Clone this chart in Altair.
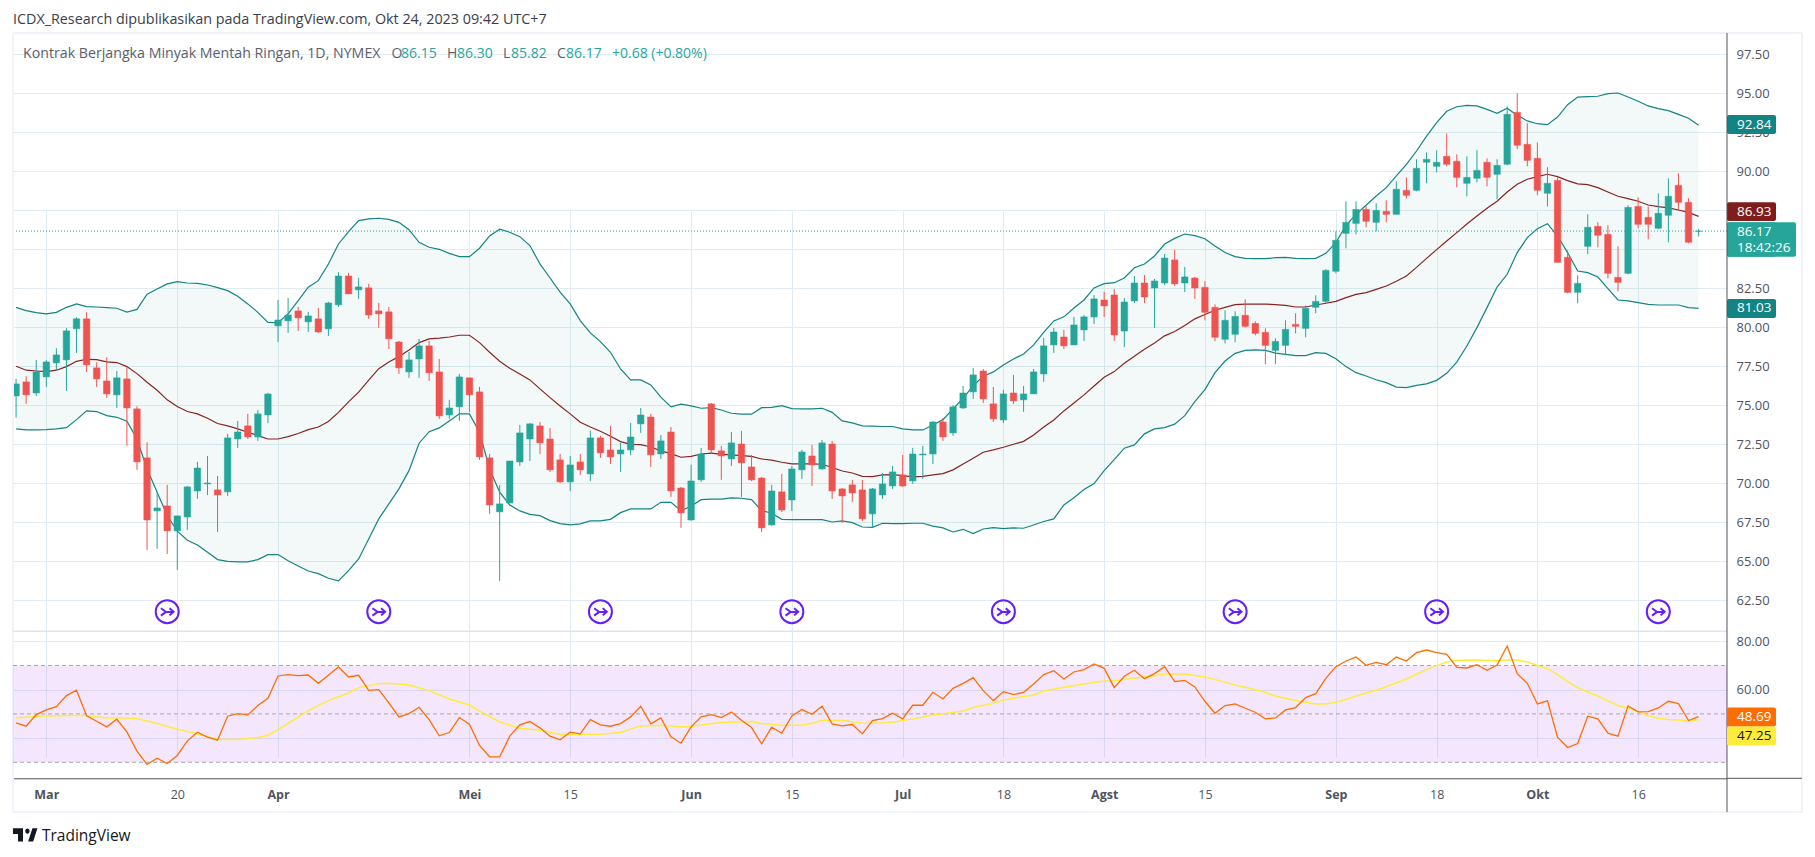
import altair as alt
import pandas as pd

bars = list(range(-3, 165))

opens = [75.60,76.50,75.79,76.82,77.72,77.91,79.90,80.54,77.40,76.56,
75.67,76.69,74.77,71.63,68.23,68.55,66.95,67.84,69.51,69.96,
69.58,69.45,72.84,73.68,72.97,74.38,80.09,80.41,81.05,80.35,
80.54,79.90,81.44,83.29,82.40,82.53,81.05,80.99,79.06,77.14,
77.97,78.81,77.14,74.38,74.90,76.76,75.86,71.63,68.17,68.74,
71.37,72.84,73.68,72.84,71.50,70.09,71.37,70.60,72.91,72.14,
71.88,72.14,73.81,74.25,71.88,73.29,69.70,67.65,70.22,75.09,
72.08,71.56,72.52,71.05,70.34,67.33,69.45,68.93,70.86,71.75,
70.92,72.52,69.64,69.90,69.58,68.04,69.25,69.83,70.54,70.15,
71.82,71.88,73.93,73.23,74.83,75.86,77.20,75.09,74.06,75.79,
75.35,75.73,77.01,78.87,79.38,78.87,79.83,80.66,81.75,82.07,
79.76,81.69,82.84,82.52,82.84,84.32,82.84,83.16,82.56,81.28,
79.23,79.55,80.77,80.25,79.68,78.52,78.84,80.19,79.93,81.28,
81.66,83.59,86.02,86.66,87.56,86.73,87.43,87.24,88.78,88.78,
90.58,90.32,90.96,90.64,89.23,89.55,90.58,89.81,90.45,93.78,
91.73,90.83,88.59,89.42,84.49,82.24,85.19,86.47,85.96,83.20,
83.46,87.75,87.05,86.35,87.18,89.10,88.01,86.15]

closes = [76.37,75.67,77.14,77.78,78.23,79.77,80.54,77.59,76.69,75.73,
76.76,74.83,71.37,67.65,68.42,66.95,67.91,69.77,70.98,70.02,
69.25,72.91,73.29,72.97,74.45,75.73,80.47,80.79,80.60,80.73,
79.70,81.56,83.29,82.14,82.59,80.79,80.86,79.26,77.40,77.91,
78.81,77.08,74.32,74.83,76.82,75.67,71.69,68.61,68.68,71.43,
73.23,73.81,72.59,70.86,70.09,71.18,70.86,72.91,71.95,71.69,
72.14,72.97,74.38,71.82,72.72,69.51,68.10,70.15,71.88,72.14,
71.75,72.59,71.31,70.22,67.14,69.51,68.29,70.92,72.01,71.18,
72.59,69.51,69.19,69.38,67.72,69.64,69.96,70.73,69.83,71.88,
71.88,73.93,72.97,74.90,75.79,76.95,75.41,74.13,75.73,75.28,
75.73,77.14,78.81,79.70,78.81,80.15,80.67,81.82,81.37,79.51,
81.62,82.84,81.94,82.97,84.44,82.78,83.23,82.52,80.96,79.36,
80.45,80.70,80.06,79.61,78.84,79.10,79.87,80.06,81.22,81.66,
83.65,85.58,86.73,87.56,86.79,87.50,87.24,88.85,88.46,90.19,
90.77,90.58,90.45,89.61,89.61,90.06,89.61,90.38,93.65,91.67,
90.70,88.78,89.23,84.16,82.24,82.82,86.41,85.90,83.46,82.88,
87.69,86.60,86.60,87.31,88.40,88.01,85.45,86.17]

highs = [76.69,76.86,77.91,77.89,78.66,79.94,80.64,80.97,77.76,78.08,
77.20,77.44,74.94,72.63,69.43,69.90,67.93,69.83,71.37,71.75,
70.47,73.17,74.00,74.45,74.70,75.79,81.76,81.88,81.31,80.99,
81.24,81.63,83.53,83.49,83.17,82.78,81.56,81.31,79.13,78.42,
79.26,79.13,77.97,75.35,77.01,76.76,76.18,71.88,69.90,71.43,
73.74,73.87,73.93,73.55,71.88,71.75,71.88,73.36,73.04,73.68,
72.59,73.87,74.83,74.45,73.10,73.61,69.77,71.18,72.27,75.15,
72.40,73.29,73.36,71.82,70.41,69.90,70.60,71.11,72.14,72.46,
72.78,72.72,69.70,70.22,70.22,69.70,70.66,71.11,71.82,72.27,
72.40,74.00,74.19,75.02,76.24,77.40,77.33,76.18,75.99,76.95,
76.24,77.33,79.32,79.96,79.83,80.67,80.79,82.07,82.27,82.46,
81.88,83.29,83.35,83.10,84.70,84.96,83.87,83.23,82.95,81.47,
81.09,81.03,81.79,80.38,79.93,79.29,80.45,80.90,81.41,82.05,
83.72,86.15,88.08,88.08,87.75,87.95,88.14,89.36,89.61,90.77,
91.22,91.35,92.43,91.09,90.96,91.35,90.83,90.77,94.17,95.00,
93.08,91.86,90.26,89.61,84.93,83.33,87.24,86.73,86.54,85.19,
87.82,88.33,87.75,88.59,89.55,89.87,88.27,86.30]

lows = [74.21,75.09,75.60,76.18,77.23,75.92,78.36,77.14,76.18,75.47,
74.83,72.40,70.86,65.73,65.79,65.47,64.45,67.01,69.00,69.25,
66.88,69.19,72.27,72.84,72.72,73.87,79.06,79.64,79.77,79.70,
79.64,79.45,81.31,82.14,81.82,80.54,79.96,78.61,77.01,76.76,
76.76,76.56,74.13,74.13,74.00,74.58,71.50,68.04,63.74,68.74,
71.11,71.43,71.88,70.73,70.02,69.51,70.54,70.15,71.63,71.24,
70.73,71.82,73.23,71.05,71.56,69.13,67.14,67.59,70.09,71.88,
70.22,71.11,69.13,70.15,66.88,67.27,68.16,68.23,70.28,69.83,
70.86,69.00,67.46,68.81,67.59,67.20,69.00,69.64,69.77,69.96,
70.28,71.24,72.72,73.04,74.77,75.41,75.15,73.93,73.87,75.09,
74.58,75.73,76.50,78.36,78.61,78.87,79.13,80.21,80.66,79.13,
78.74,81.56,81.56,79.96,82.71,82.65,82.26,81.82,80.45,79.10,
78.97,79.04,80.00,79.48,77.63,77.63,78.20,79.61,79.36,80.90,
81.54,83.46,85.06,85.96,86.41,86.15,86.73,87.24,88.27,88.72,
89.23,89.93,90.32,88.97,88.40,89.29,89.04,88.20,90.38,91.41,
90.32,88.46,87.75,84.16,82.18,81.54,84.68,85.13,83.14,82.31,
83.40,86.35,85.64,86.28,85.45,87.50,85.39,85.82]

bb_upper = [81.28,81.07,80.94,80.86,80.96,81.28,81.50,81.33,81.30,81.26,
81.22,80.98,81.15,82.12,82.46,82.78,82.93,82.84,82.82,82.71,
82.54,82.35,81.99,81.50,80.96,80.32,80.30,80.86,81.71,82.57,
82.99,84.06,85.34,86.13,86.84,86.95,86.99,86.92,86.73,86.26,
85.45,85.13,85.00,84.74,84.53,84.53,85.07,85.86,86.29,86.09,
85.81,85.24,84.06,83.16,82.25,81.50,80.43,79.64,79.08,78.40,
77.33,76.63,76.63,76.31,75.52,74.90,75.07,74.96,74.81,74.85,
74.70,74.49,74.43,74.43,74.85,74.87,74.98,74.79,74.77,74.77,
74.81,74.55,74.00,73.87,73.68,73.66,73.64,73.64,73.49,73.42,
73.42,73.74,74.08,74.77,75.45,76.26,76.86,77.14,77.59,77.97,
78.29,78.87,79.68,80.41,80.67,81.24,81.75,82.52,82.80,82.86,
83.16,83.82,84.06,84.57,85.34,85.70,85.98,85.88,85.68,85.21,
84.79,84.53,84.42,84.40,84.40,84.46,84.48,84.42,84.40,84.42,
84.74,85.43,86.54,87.24,87.82,88.42,88.95,89.70,90.45,91.30,
92.26,93.12,93.85,94.14,94.23,94.19,93.97,93.72,94.04,93.59,
93.23,93.05,92.99,93.48,94.27,94.76,94.79,94.81,94.98,95.02,
94.76,94.49,94.19,94.02,93.89,93.65,93.40,92.95]

bb_lower = [73.49,73.42,73.42,73.44,73.49,73.57,74.08,74.64,74.60,74.34,
74.23,73.98,72.84,70.92,69.43,67.93,66.93,66.35,66.05,65.58,
65.11,65.00,64.96,64.96,65.11,65.43,65.43,65.04,64.70,64.38,
64.21,63.91,63.74,64.40,65.15,66.43,67.72,68.68,69.64,70.81,
72.57,73.31,73.55,74.00,74.45,74.45,73.27,70.92,69.43,68.61,
68.23,68.01,67.93,67.61,67.42,67.33,67.40,67.59,67.59,67.69,
68.12,68.36,68.36,68.36,68.78,68.78,68.25,68.53,68.95,68.98,
68.98,69.06,69.04,68.95,68.25,68.08,67.69,67.67,67.67,67.67,
67.67,67.52,67.59,67.48,67.20,67.18,67.44,67.42,67.42,67.44,
67.44,67.25,67.14,66.88,67.05,66.78,67.07,67.16,67.10,67.14,
67.12,67.33,67.55,67.72,68.61,69.08,69.60,69.98,70.81,71.52,
72.25,72.46,73.17,73.49,73.57,73.79,74.34,75.24,76.01,77.09,
77.84,78.33,78.52,78.55,78.52,78.35,78.27,78.18,78.18,78.37,
78.33,77.99,77.48,77.09,76.88,76.64,76.45,76.17,76.13,76.28,
76.37,76.60,77.05,77.77,78.80,79.98,81.26,82.58,83.40,84.79,
85.75,86.32,86.64,85.85,84.79,83.61,83.50,83.22,82.48,81.75,
81.69,81.58,81.47,81.43,81.43,81.43,81.26,81.21]

bb_basis = [77.50,77.25,77.20,77.16,77.25,77.48,77.82,77.95,77.93,77.78,
77.74,77.48,77.03,76.48,75.96,75.35,74.92,74.60,74.45,74.17,
73.83,73.68,73.49,73.27,73.06,72.84,72.84,72.99,73.19,73.44,
73.61,73.96,74.55,75.22,75.84,76.61,77.35,77.78,78.12,78.55,
79.02,79.26,79.30,79.38,79.49,79.49,79.02,78.40,77.82,77.37,
77.01,76.63,76.05,75.49,74.96,74.45,73.91,73.61,73.34,73.02,
72.67,72.50,72.48,72.33,72.08,71.90,71.67,71.73,71.88,71.93,
71.86,71.82,71.78,71.73,71.56,71.48,71.35,71.24,71.24,71.24,
71.22,71.01,70.79,70.66,70.45,70.43,70.54,70.56,70.49,70.41,
70.45,70.54,70.62,70.86,71.24,71.61,71.99,72.14,72.31,72.50,
72.69,73.10,73.61,74.06,74.64,75.15,75.67,76.24,76.80,77.16,
77.70,78.14,78.59,79.00,79.45,79.73,80.11,80.54,80.82,81.09,
81.28,81.45,81.49,81.49,81.49,81.45,81.41,81.30,81.30,81.43,
81.54,81.66,81.90,82.11,82.22,82.43,82.65,82.95,83.29,83.84,
84.42,84.98,85.53,86.07,86.62,87.14,87.63,88.08,88.67,89.17,
89.49,89.66,89.81,89.66,89.40,89.19,89.15,88.95,88.67,88.40,
88.25,88.08,87.84,87.73,87.65,87.52,87.37,87.11]

rsi = [46.29,44.91,49.72,51.65,53.02,57.56,59.76,49.17,46.97,44.64,
47.80,42.58,34.60,29.10,31.72,29.52,32.82,38.86,42.44,40.38,
39.14,49.04,50.14,49.59,53.43,56.46,65.67,66.22,65.81,66.08,
62.64,65.94,69.38,65.26,65.94,59.76,60.03,54.54,48.76,50.14,
52.75,47.66,40.93,42.30,48.49,45.74,36.94,32.27,32.27,40.79,
45.46,46.84,44.23,40.79,39.28,42.44,41.75,47.66,45.46,44.91,
46.01,48.76,53.16,45.87,48.35,40.51,37.90,44.64,48.76,49.72,
48.49,50.82,47.39,44.36,37.63,44.50,42.03,49.17,51.79,49.86,
53.16,45.87,45.05,45.60,41.75,47.25,48.07,50.27,47.94,53.57,
53.57,58.93,56.18,60.58,62.64,64.98,59.62,55.50,59.21,57.97,
58.93,62.37,66.22,67.87,64.43,67.32,68.28,70.62,68.83,60.86,
65.53,68.01,64.57,66.63,69.52,63.33,63.88,61.13,55.22,50.27,
53.43,54.12,52.34,50.69,47.94,48.35,51.65,52.61,56.73,58.38,
64.71,69.52,71.85,73.50,70.07,71.31,70.34,73.50,71.85,75.29,
76.39,75.29,74.60,69.24,68.97,70.34,68.01,70.21,78.04,66.63,
62.64,54.12,55.36,40.38,36.11,37.76,49.04,47.94,42.03,40.79,
53.30,50.82,50.96,52.47,55.22,54.26,47.25,48.90]

ma_bars = [-3,-1,2,4,6,8,9,11,13,15,17,19,21,22,23,25,26,28,30,31,33,34,36,38,40,42,43,45,47,49,
51,53,55,57,59,61,63,64,65,67,70,71,72,73,75,76,77,79,81,83,84,86,88,90,91,92,94,95,97,98,
99,101,103,105,106,108,110,111,113,115,116,118,119,121,122,124,126,127,128,129,130,132,134,135,137,138,139,140,142,144,
145,146,147,149,150,151,152,153,154,155,156,157,158,159,160,161,162,163,164]
rsi_ma = [48.35,49.04,49.31,49.31,48.35,48.35,48.07,46.01,43.67,41.75,39.41,39.41,40.24,41.20,43.54,48.62,51.37,55.50,58.66,60.86,62.51,62.64,61.96,59.62,56.18,53.71,51.10,46.70,44.09,43.26,
41.61,41.48,41.61,42.30,45.05,45.32,44.64,44.78,45.46,46.42,46.84,46.01,45.74,45.19,45.46,46.01,47.39,47.25,46.15,46.29,46.56,47.94,49.59,50.55,51.24,52.61,54.40,55.77,57.15,57.83,
59.48,60.99,62.37,63.61,63.61,64.84,65.81,66.49,66.49,65.26,64.16,61.96,60.99,58.93,57.42,55.50,54.12,54.12,54.81,55.91,57.42,59.76,62.78,64.43,68.28,69.93,71.44,72.13,72.27,71.99,
72.27,72.27,71.44,68.69,66.22,63.33,60.86,59.07,57.42,55.36,53.43,52.47,50.82,49.31,48.21,47.66,47.52,46.97,47.66]

tick_bars = [0,13,23,42,52,64,74,85,95,105,115,128,138,148,158]
tick_labels = ["Mar","20","Apr","Mei","15","Jun","15","Jul","18","Agst","15","Sep","18","Okt","16"]
month_bars = [0,23,42,64,85,105,128,148]
price_ticks = [62.5,65,67.5,70,72.5,75,77.5,80,82.5,85,87.5,90,92.5,95,97.5]
rsi_grid = [40,60,80]
rsi_levels = [70,50,30]
icon_bars = [12,33,55,74,95,118,138,160]
icon_level = 61.77
last_price = 86.17

price_tags = pd.DataFrame({
    "lo": [92.39,86.82,84.53,80.60],
    "hi": [93.61,88.01,86.73,81.81],
    "c": ["#138484","#7f1d1d","#26a69a","#138484"],
})
price_text = pd.DataFrame({
    "t": ["92.84","86.93","86.17","18:42:26","81.03"],
    "p": [92.98,87.42,86.11,85.07,81.21],
})
rsi_tags = pd.DataFrame({
    "lo": [44.75,36.90], "hi": [52.60,44.75], "c": ["#ff6d00","#ffeb3b"],
    "t": ["48.69","47.25"], "tc": ["#ffffff","#131722"], "m": [48.68,40.83],
})

FONT = "Open Sans"
W, H = 1714, 745.3
GRID = "#e1ecf2"
UP, DOWN, TEAL, BASIS = "#26a69a", "#ef5350", "#138484", "#872323"
one = pd.DataFrame({"a": [0]})

df = pd.DataFrame({"i": bars, "o": opens, "c": closes, "h": highs, "l": lows,
                   "up": bb_upper, "lw": bb_lower, "mid": bb_basis, "rsi": rsi})
df["dir"] = ["up" if c >= o else "down" for o, c in zip(opens, closes)]
df_ma = pd.DataFrame({"i": ma_bars, "ma": rsi_ma})

xs = alt.Scale(domain=[-3.305, 166.82], range=[0, W], nice=False, zero=False, padding=0)
ps = alt.Scale(domain=[62.5, 97.5], range=[567.3, 21.3], nice=False, zero=False)
rs = alt.Scale(domain=[30, 80], range=[729.3, 608.3], nice=False, zero=False)
month_test = "indexof(%s, datum.value) >= 0" % month_bars
x_axis = alt.Axis(
    title=None, values=tick_bars, grid=True, gridColor=GRID, gridWidth=1,
    labelExpr="%s[indexof(%s, datum.value)]" % (tick_labels, tick_bars),
    labelFontWeight={"condition": {"test": month_test, "value": "bold"}, "value": "normal"},
    labelFont=FONT, labelFontSize=12.5, labelColor="#50535e", labelPadding=10,
    ticks=False, domain=True, domainColor="#50535e", domainWidth=1, labelOverlap=False)

def axis_y(vals):
    return alt.Axis(title=None, orient="right", values=vals, grid=True, gridColor=GRID, gridWidth=1,
                    format=".2f", labelFont=FONT, labelFontSize=13, labelColor="#50535e",
                    labelPadding=9, ticks=False, domain=False, labelOverlap=False, labelBound=False)

price_axis = axis_y(price_ticks)
rsi_axis = axis_y(rsi_grid)
X = alt.X("i:Q", scale=xs, axis=x_axis)
P = lambda f: alt.Y(f, scale=ps, axis=price_axis)
R = lambda f: alt.Y(f, scale=rs, axis=rsi_axis)
dir_scale = alt.Scale(domain=["up", "down"], range=[UP, DOWN])
colour = alt.Color("dir:N", scale=dir_scale, legend=None)

band = alt.Chart(df).mark_area(color=TEAL, opacity=0.05).encode(x=X, y=P("up:Q"), y2="lw:Q")
upper = alt.Chart(df).mark_line(color=TEAL, strokeWidth=1.2).encode(x=X, y=P("up:Q"))
lower = alt.Chart(df).mark_line(color=TEAL, strokeWidth=1.2).encode(x=X, y=P("lw:Q"))
basis = alt.Chart(df).mark_line(color=BASIS, strokeWidth=1.2).encode(x=X, y=P("mid:Q"))
wicks = alt.Chart(df).mark_rule(strokeWidth=1).encode(x=X, y=P("h:Q"), y2="l:Q", color=colour)
bodies = alt.Chart(df).mark_bar(size=6.5, strokeWidth=0.5).encode(
    x=X, y=P("o:Q"), y2="c:Q", color=colour, stroke=alt.Stroke("dir:N", scale=dir_scale, legend=None))
last_line = alt.Chart(pd.DataFrame({"p": [last_price]})).mark_rule(
    color=UP, strokeDash=[1, 2], strokeWidth=1).encode(
    x=alt.value(0), x2=alt.value(W), y=P("p:Q"))
icons = pd.DataFrame({"i": icon_bars, "p": [icon_level] * len(icon_bars)})
ring = alt.Chart(icons).mark_point(shape="circle", filled=False, size=529, color="#651fff",
                                   strokeWidth=2, opacity=1).encode(x=X, y=P("p:Q"))
arrow = alt.Chart(icons).mark_point(
    shape="M-0.55 -0.3 L-0.1 0.02 L-0.55 0.34 M-0.1 0.02 L0.55 0 M0.2 -0.3 L0.55 0 L0.2 0.32",
    filled=False, size=529, color="#651fff", strokeWidth=2, opacity=1).encode(x=X, y=P("p:Q"))
ptag = alt.Chart(price_tags).mark_rect(cornerRadius=2).encode(
    x=alt.value(W), x2=alt.value(W + 49), y=P("lo:Q"), y2="hi:Q",
    color=alt.Color("c:N", scale=None, legend=None))
ptag2 = alt.Chart(price_tags.iloc[[2]]).mark_rect(color=UP, cornerRadius=2).encode(
    x=alt.value(W), x2=alt.value(W + 69), y=P("lo:Q"), y2="hi:Q")
ptext = alt.Chart(price_text).mark_text(align="left", font=FONT, fontSize=13.5, color="#ffffff").encode(
    x=alt.value(W + 10), y=P("p:Q"), text="t:N")

def txt(t, x, y, color, size=14, weight="normal"):
    return alt.Chart(one).mark_text(text=t, align="left", baseline="middle", font=FONT, fontSize=size,
                                    color=color, fontWeight=weight).encode(x=alt.value(x), y=alt.value(y))

def hrule(x1, x2, y, color, width=1):
    return alt.Chart(one).mark_rule(color=color, strokeWidth=width).encode(
        x=alt.value(x1), x2=alt.value(x2), y=alt.value(y))

def vrule(x, y1, y2, color, width=1):
    return alt.Chart(one).mark_rule(color=color, strokeWidth=width).encode(
        x=alt.value(x), y=alt.value(y1), y2=alt.value(y2))

GRAY, INK = "#5d606b", "#3a3e4a"
deco = [
    hrule(0, 1789, 0, "#f0f3fa", 2), hrule(0, 1789, 779, "#f0f3fa", 2),
    vrule(0, 0, 779, "#f0f3fa", 2), vrule(1789, 0, 779, "#f0f3fa", 2),
    hrule(0, W, 598.3, "#e0e3eb", 1.5),
    vrule(W, 0, 779, "#50535e", 1), hrule(W, 1789, H, "#50535e", 1),
    txt("ICDX_Research dipublikasikan pada TradingView.com, Okt 24, 2023 09:42 UTC+7", 0, -13, INK, 14.35),
    txt("Kontrak Berjangka Minyak Mentah Ringan, 1D, NYMEX", 10, 20.7, GRAY, 14.2),
    txt("O", 378.5, 20.7, GRAY), txt("86.15", 388, 20.7, UP),
    txt("H", 434, 20.7, GRAY), txt("86.30", 444, 20.7, UP),
    txt("L", 490, 20.7, GRAY), txt("85.82", 498, 20.7, UP),
    txt("C", 544, 20.7, GRAY), txt("86.17", 553, 20.7, UP),
    txt("+0.68 (+0.80%)", 599, 20.7, UP),
    txt("TradingView", 29, 803, "#131722", 15.5),
    alt.Chart(one).mark_point(
        shape="M-1 -0.55 L-0.18 -0.55 L-0.18 0.53 L-0.59 0.53 L-0.59 -0.08 L-1 -0.08 Z "
              "M0.65 0.53 L1 -0.55 L0.59 -0.55 L0.24 0.53 Z "
              "M0 -0.32 A0.18 0.22 0 1 0 0.36 -0.32 A0.18 0.22 0 1 0 0 -0.32 Z",
        filled=True, size=600, color="#131722", opacity=1, strokeWidth=0).encode(
        x=alt.value(12.2), y=alt.value(802)),
]

price_layer = alt.layer(band, upper, lower, basis, wicks, bodies, last_line, ring, arrow,
                        ptag, ptag2, ptext, *deco)

rsi_df = pd.DataFrame({"a": [70], "b": [30]})
rsi_band = alt.Chart(rsi_df).mark_rect(color="#9b27f0", opacity=0.11).encode(
    x=alt.value(0), x2=alt.value(W), y=R("a:Q"), y2="b:Q")
levels = alt.Chart(pd.DataFrame({"v": rsi_levels})).mark_rule(
    color="#a5a6ad", strokeDash=[4, 3], strokeWidth=1).encode(
    x=alt.value(0), x2=alt.value(W), y=R("v:Q"))
ma_line = alt.Chart(df_ma).mark_line(color="#ffeb3b", strokeWidth=1.5).encode(x=X, y=R("ma:Q"))
rsi_line = alt.Chart(df).mark_line(color="#ff6d00", strokeWidth=1.3).encode(x=X, y=R("rsi:Q"))
rtag = alt.Chart(rsi_tags).mark_rect(cornerRadius=2).encode(
    x=alt.value(W), x2=alt.value(W + 49), y=R("lo:Q"), y2="hi:Q",
    color=alt.Color("c:N", scale=None, legend=None))
rtext = alt.Chart(rsi_tags).mark_text(align="left", font=FONT, fontSize=13.5).encode(
    x=alt.value(W + 10), y=R("m:Q"), text="t:N", color=alt.Color("tc:N", scale=None, legend=None))

rsi_layer = alt.layer(rsi_band, levels, ma_line, rsi_line, rtag, rtext)

chart = (
    alt.layer(price_layer, rsi_layer)
    .resolve_scale(y="independent", color="independent")
    .properties(width=W, height=H, padding={"left": 5, "top": 25, "right": 80, "bottom": 74},
                autosize=alt.AutoSizeParams(type="none"), background="#ffffff")
    .configure_view(stroke=None)
)
chart.save("out.html", embed_options={"renderer": "svg", "actions": False})
